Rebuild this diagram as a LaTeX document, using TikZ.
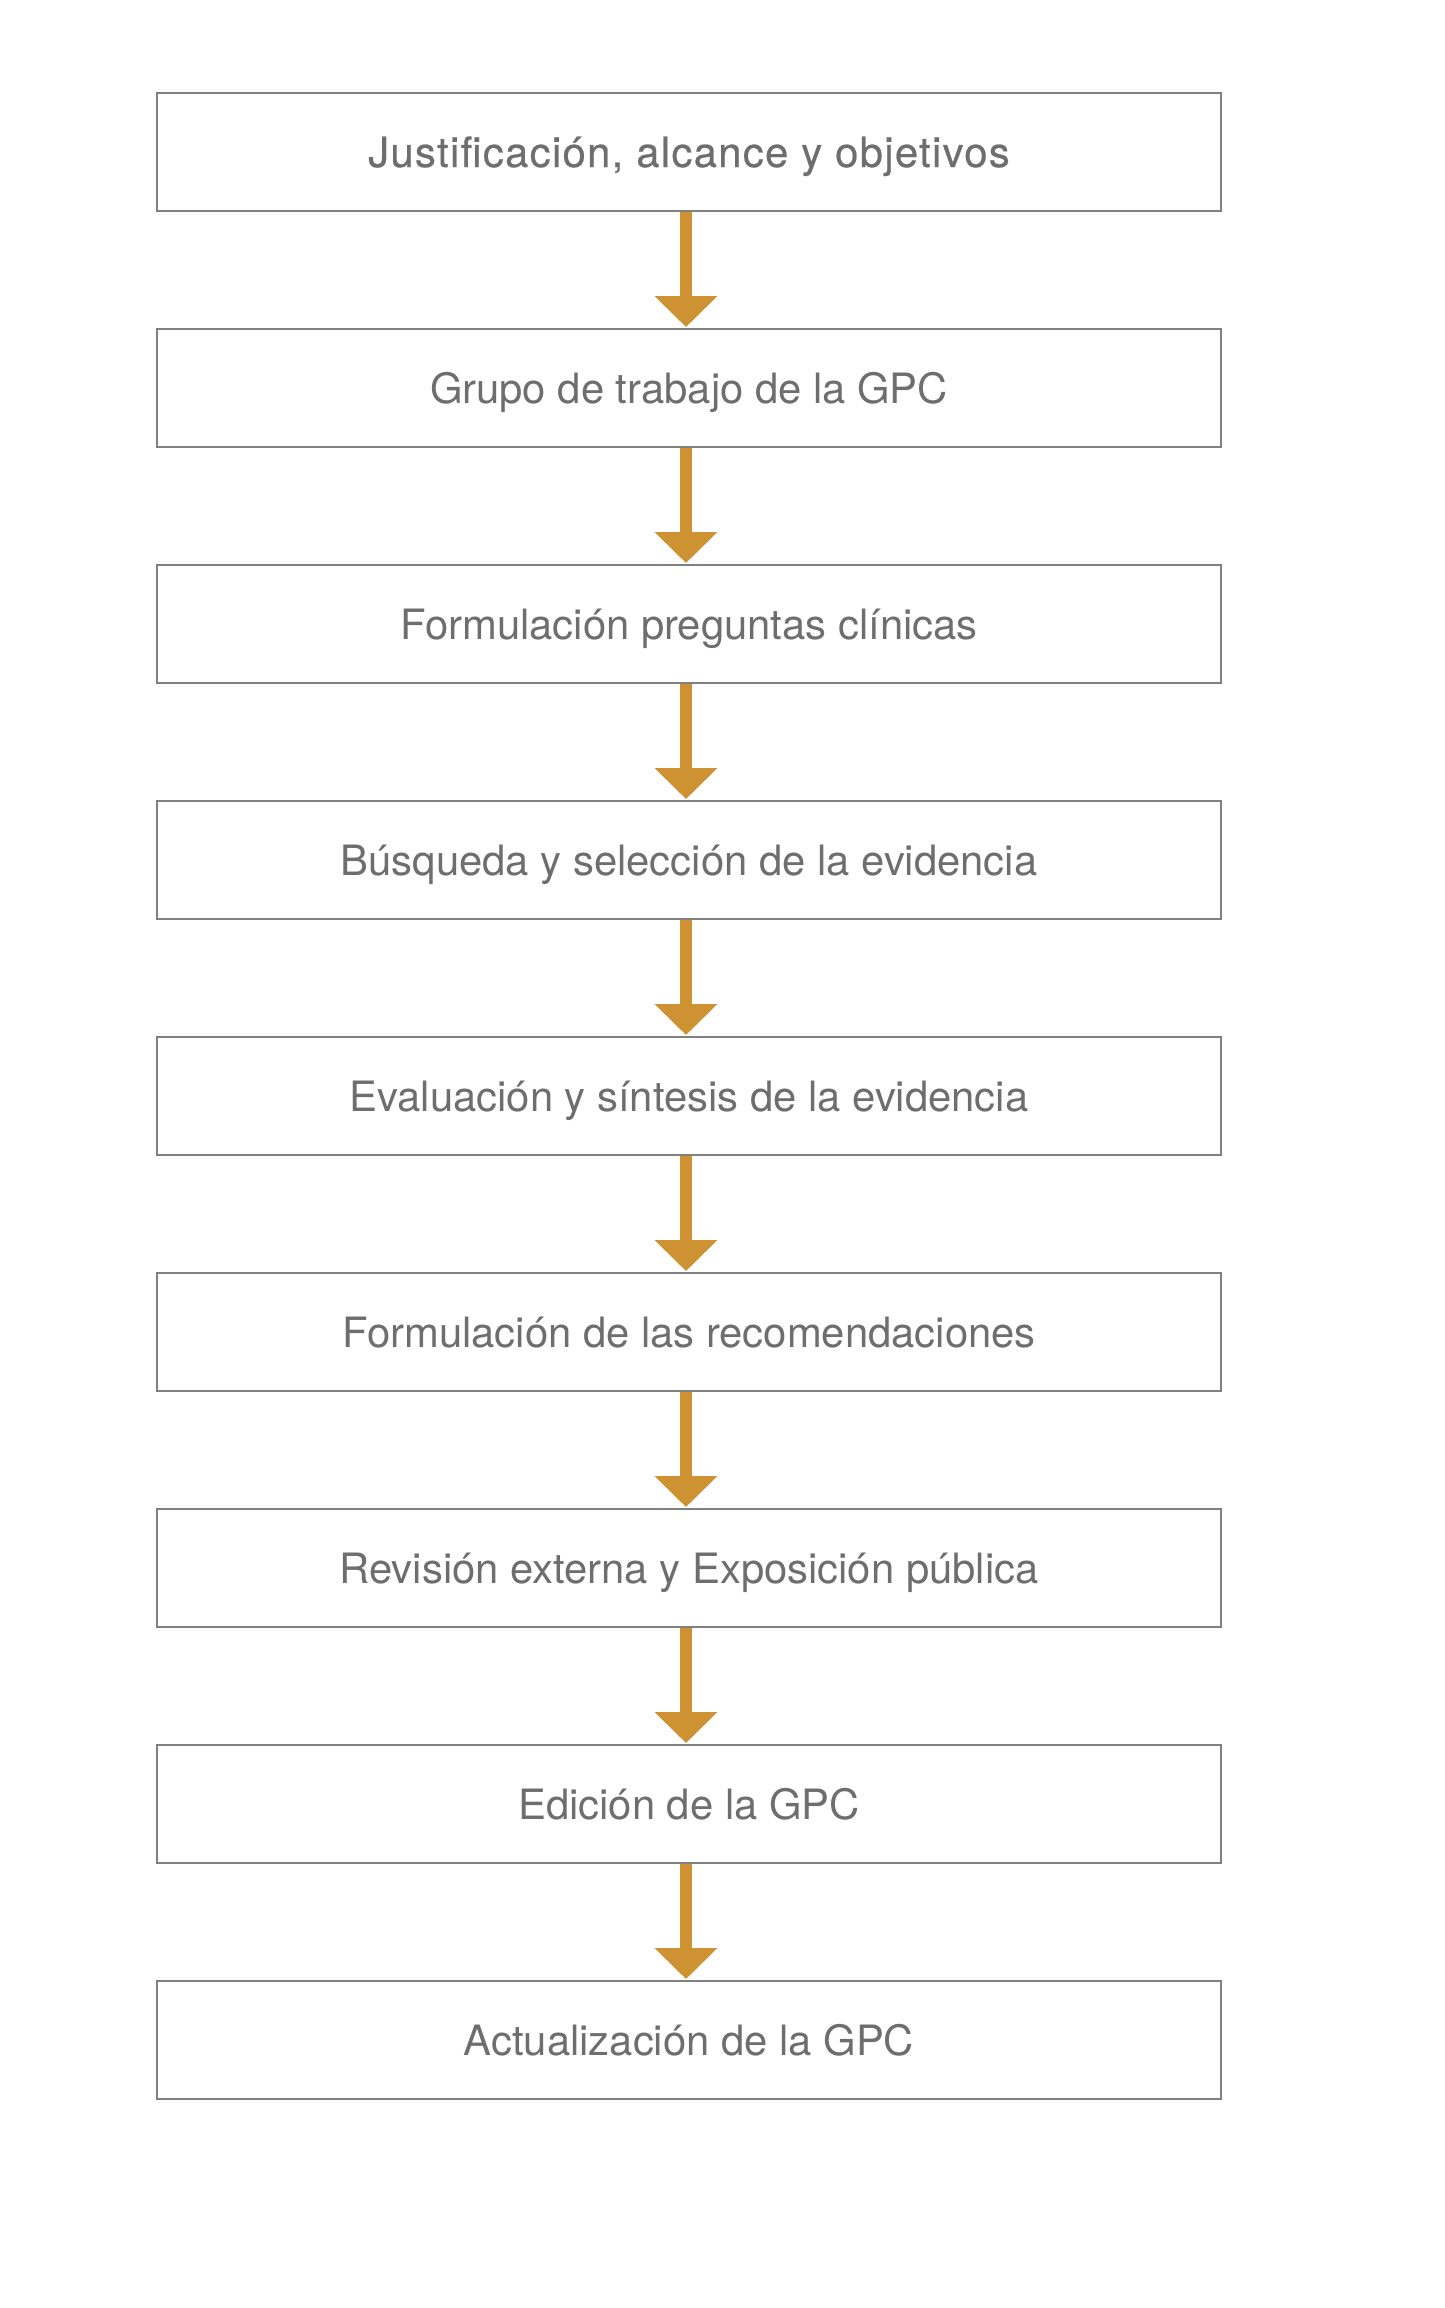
\documentclass[tikz,border=0pt]{standalone}
\usepackage{fontspec}
\setmainfont{TeX Gyre Heros}
\newfontfamily\medfont[FakeBold=0.5,LetterSpace=3.2]{TeX Gyre Heros}
\usetikzlibrary{arrows.meta}
\definecolor{boxline}{RGB}{128,128,128}
\definecolor{txtgray}{RGB}{110,110,110}
\definecolor{arrowc}{RGB}{207,146,51}
\tikzset{
  stepbox/.style={draw=boxline, line width=1pt, minimum width=532pt, minimum height=59pt,
    inner sep=0pt, text=txtgray, font=\fontsize{20.9pt}{24pt}\selectfont,
    text height=15pt, text depth=0pt},
  flowarrow/.style={draw=arrowc, line width=6pt, -{Triangle[width=30.5pt,length=15.5pt]}}
}
\begin{document}
\begin{tikzpicture}[x=0.5pt,y=-0.5pt]
\useasboundingbox (0,0) rectangle (1445,2308);
\node[stepbox] (n0) at (689,152) {\medfont Justificación, alcance y objetivos};
\node[stepbox] (n1) at (689,388) {Grupo de trabajo de la GPC};
\node[stepbox] (n2) at (689,624) {Formulación preguntas clínicas};
\node[stepbox] (n3) at (689,860) {Búsqueda y selección de la evidencia};
\node[stepbox] (n4) at (689,1096) {Evaluación y síntesis de la evidencia};
\node[stepbox] (n5) at (689,1332) {Formulación de las recomendaciones};
\node[stepbox] (n6) at (689,1568) {Revisión externa y Exposición pública};
\node[stepbox] (n7) at (689,1804) {Edición de la GPC};
\node[stepbox] (n8) at (689,2040) {Actualización de la GPC};
\foreach \a/\b in {n0/n1,n1/n2,n2/n3,n3/n4,n4/n5,n5/n6,n6/n7,n7/n8}{
  \draw[flowarrow] ([xshift=-1.5pt]\a.south) -- ([xshift=-1.5pt,yshift=0.5pt]\b.north);
}
\end{tikzpicture}
\end{document}
